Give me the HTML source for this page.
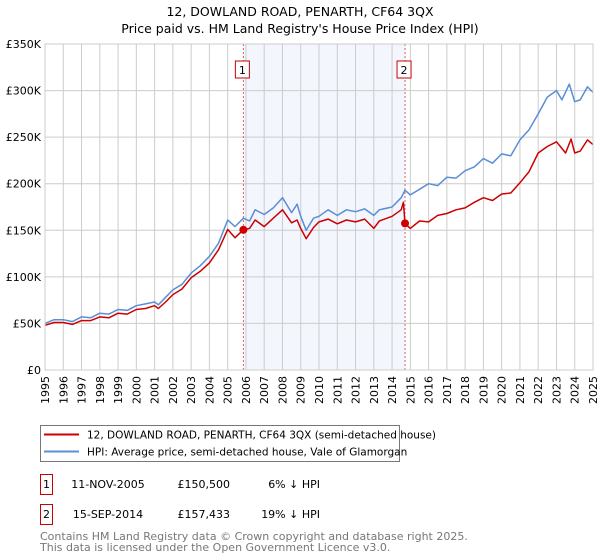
<!DOCTYPE html>
<html><head><meta charset="utf-8"><style>
body{margin:0;background:#fff;font-family:"Liberation Sans","DejaVu Sans",sans-serif;}
#wrap{position:relative;width:600px;height:560px;overflow:hidden}
</style></head><body><div id="wrap">
<svg id="svg" width="600" height="560" style="position:absolute;left:0;top:0" font-family="DejaVu Sans, Liberation Sans, sans-serif"></svg>
</div>
<script>
const hpiYears=[1995,1995.5,1996,1996.5,1997,1997.5,1998,1998.5,1999,1999.5,2000,2000.5,2001,2001.2,2001.6,2002,2002.5,2003,2003.5,2004,2004.5,2005,2005.4,2005.86,2006.2,2006.5,2007,2007.5,2008,2008.5,2008.8,2009,2009.3,2009.7,2010,2010.5,2011,2011.5,2012,2012.5,2013,2013.3,2014,2014.5,2014.71,2015,2015.5,2016,2016.5,2017,2017.5,2018,2018.5,2019,2019.5,2020,2020.5,2021,2021.5,2022,2022.5,2023,2023.3,2023.7,2024,2024.3,2024.7,2025];
const hpiValues=[50,54,54,52,57,56,61,60,65,64,69,71,73,70,78,86,92,104,112,122,136,161,154,163,160,172,167,174,185,169,178,165,150,163,165,172,166,172,170,173,166,172,175,185,193,188,194,200,198,207,206,214,218,227,222,232,230,247,258,275,293,300,290,307,288,290,304,298];
const priceYears=[1995,1995.5,1996,1996.5,1997,1997.5,1998,1998.5,1999,1999.5,2000,2000.5,2001,2001.2,2001.6,2002,2002.5,2003,2003.5,2004,2004.5,2005,2005.4,2005.86,2006.2,2006.5,2007,2007.5,2008,2008.5,2008.8,2009,2009.3,2009.7,2010,2010.5,2011,2011.5,2012,2012.5,2013,2013.3,2014,2014.5,2014.62,2014.71,2015,2015.5,2016,2016.5,2017,2017.5,2018,2018.5,2019,2019.5,2020,2020.5,2021,2021.5,2022,2022.5,2023,2023.5,2023.8,2024,2024.3,2024.7,2025];
const priceValues=[48,51,51,49,53,53,57,56,61,60,65,66,69,66,73,81,87,99,106,115,129,151,142,150.5,152,161,154,163,172,158,161,152,141,153,159,162,157,161,159,162,152,160,165,172,180,157.4,152,160,159,166,168,172,174,180,185,182,189,190,201,213,233,240,245,233,248,233,235,247,242];
const saleYears=[2005.86,2014.71];
const saleValues=[150.5,157.433];
const saleLabels=["1","2"];
const yTicks=[0,50,100,150,200,250,300,350];
const yTickLabels=["£0","£50K","£100K","£150K","£200K","£250K","£300K","£350K"];
const xTicks=[1995,1996,1997,1998,1999,2000,2001,2002,2003,2004,2005,2006,2007,2008,2009,2010,2011,2012,2013,2014,2015,2016,2017,2018,2019,2020,2021,2022,2023,2024,2025];

const X0=45,X1=593,Y0=370,Y1=44;
const xs=y=>X0+(y-1995)/30*(X1-X0);
const ys=v=>Y0-v/350*(Y0-Y1);
const svg=document.getElementById('svg');
const NS='http://www.w3.org/2000/svg';
function mk(tag,attrs,parent){const e=document.createElementNS(NS,tag);for(const k in attrs)e.setAttribute(k,attrs[k]);(parent||svg).appendChild(e);return e;}

let e=mk('text',{x:300,y:16,'text-anchor':'middle','font-size':12.5,fill:'#000'});e.textContent='12, DOWLAND ROAD, PENARTH, CF64 3QX';


e=mk('text',{x:300,y:33,'text-anchor':'middle','font-size':12.5,fill:'#000'});e.textContent="Price paid vs. HM Land Registry's House Price Index (HPI)";



e=mk('rect',{x:xs(saleYears[0]),y:Y1,width:xs(saleYears[1])-xs(saleYears[0]),height:Y0-Y1,fill:'#eef2fc',opacity:0.7});



xTicks.forEach(t=>{
 e=mk('line',{x1:xs(t),x2:xs(t),y1:Y1,y2:Y0,stroke:'#cccccc','stroke-width':1});
 
 
 e=mk('text',{transform:`translate(${xs(t)+4},${Y0+6}) rotate(-90)`,'text-anchor':'end','font-size':11,fill:'#000'});e.textContent=t;
 
 
});
yTicks.forEach((t,i)=>{
 e=mk('line',{x1:X0,x2:X1,y1:ys(t),y2:ys(t),stroke:'#cccccc','stroke-width':1});
 
 
 e=mk('text',{x:X0-4,y:ys(t)+4,'text-anchor':'end','font-size':11,fill:'#000'});e.textContent=yTickLabels[i];
 
 
});

saleYears.forEach((s,i)=>{
 e=mk('line',{x1:xs(s),x2:xs(s),y1:Y1,y2:Y0,stroke:'#e06060','stroke-width':1,'stroke-dasharray':'2,2'});
 
 
 e=mk('rect',{x:xs(s)-8,y:61,width:14,height:17,fill:'#fff',stroke:'#cc0000','stroke-width':1});
 
 
 e=mk('text',{x:xs(s)-1,y:74,'text-anchor':'middle','font-size':11,fill:'#000'});e.textContent=saleLabels[i];
 
 
});

function path(xa,va,color,name){
 const d=xa.map((x,i)=>(i?'L':'M')+xs(x).toFixed(1)+','+ys(va[i]).toFixed(1)).join('');
 const p=mk('path',{d:d,fill:'none',stroke:color,'stroke-width':1.5,'stroke-linejoin':'round'});
 
 
}
path(hpiYears,hpiValues,'#5b8ed6','hpi-line');
path(priceYears,priceValues,'#cc0000','price-paid-line');
saleYears.forEach((s,i)=>{
 e=mk('circle',{cx:xs(s),cy:ys(saleValues[i]),r:4,fill:'#cc0000'});
 
 
});
e=mk('rect',{x:X0,y:Y1,width:X1-X0,height:Y0-Y1,fill:'none',stroke:'#cccccc'});



// legend
e=mk('rect',{x:40.5,y:425.5,width:359,height:36,fill:'#fff',stroke:'#777'});


e=mk('line',{x1:44,x2:79,y1:434.5,y2:434.5,stroke:'#cc0000','stroke-width':2});


e=mk('text',{x:87,y:438.5,'font-size':10.5});e.textContent='12, DOWLAND ROAD, PENARTH, CF64 3QX (semi-detached house)';


e=mk('line',{x1:44,x2:79,y1:451.5,y2:451.5,stroke:'#5b8ed6','stroke-width':2});


e=mk('text',{x:87,y:455.5,'font-size':10.5});e.textContent='HPI: Average price, semi-detached house, Vale of Glamorgan';



// table
const rows=[["1","11-NOV-2005","£150,500","6% ↓ HPI",483],["2","15-SEP-2014","£157,433","19% ↓ HPI",513]];
rows.forEach(r=>{
 e=mk('rect',{x:40.5,y:r[4]-8.5,width:12,height:20,fill:'#fff',stroke:'#cc0000'});
 
 
 e=mk('text',{x:46.5,y:r[4]+5,'text-anchor':'middle','font-size':11});e.textContent=r[0];
 
 
 e=mk('text',{x:108,y:r[4]+5,'text-anchor':'middle','font-size':11});e.textContent=r[1];
 
 
 e=mk('text',{x:230,y:r[4]+5,'text-anchor':'end','font-size':11});e.textContent=r[2];
 
 
 e=mk('text',{x:320,y:r[4]+5,'text-anchor':'end','font-size':11});e.textContent=r[3];
 
 
});
e=mk('text',{x:40,y:540,'font-size':11,fill:'#777'});e.textContent='Contains HM Land Registry data © Crown copyright and database right 2025.';


e=mk('text',{x:40,y:551,'font-size':11,fill:'#777'});e.textContent='This data is licensed under the Open Government Licence v3.0.';


</script></body></html>
